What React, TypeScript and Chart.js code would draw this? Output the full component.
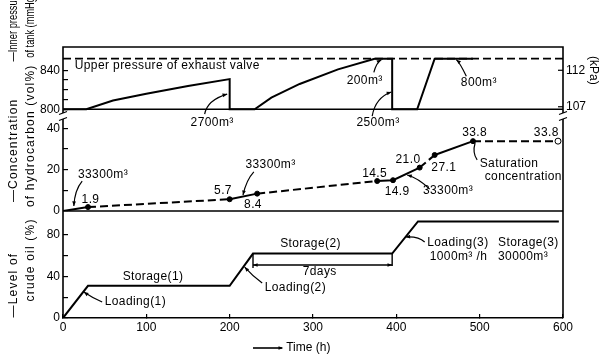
import React, { useEffect, useRef } from 'react';
import { Chart, registerables } from 'chart.js';

Chart.register(...registerables);

// ---------- data ----------
// x axis: time (h)
const timeTicks = [0, 100, 200, 300, 400, 500, 600];

// Panel 1: inner pressure of tank (mmHg)
const pressureTime = [0, 28, 60, 100, 150, 200, 200, 230, 250, 284, 330, 374, 395, 395, 425, 446, 492];
const pressureMmHg = [800, 800, 809, 816, 824, 831, 800, 800, 812, 826, 841, 852, 852, 800, 800, 852, 852];
const exhaustValveTime = [0, 600];
const exhaustValveMmHg = [852, 852];
const pressureTicks = [800, 810, 820, 830, 840];
const pressureLabelled = [800, 840];
const kPaLabels = [112, 107];
const MMHG_PER_KPA = 7.50062;

// Panel 2: concentration of hydrocarbon (vol%)
const concTime = [0, 30, 200, 233, 377, 396, 428, 446, 492, 594];
const concValue = [0, 1.9, 5.7, 8.4, 14.5, 14.9, 21.0, 27.1, 33.8, 33.8];
const concDashed = [false, true, false, true, false, false, true, false, true];
const concTicks = [0, 10, 20, 30, 40];
const concLabelled = [0, 20, 40];

// Panel 3: level of crude oil (%)
const levelTime = [0, 30, 200, 228, 395, 426, 595];
const levelValue = [0, 31, 31, 62, 62, 93, 93];
const levelTicks = [0, 20, 40, 60, 80];
const levelLabelled = [0, 40, 80];

const FONT = "'Liberation Sans', Arial, Helvetica, sans-serif";
const INK = '#000';

type Ax = 'yP' | 'yC' | 'yL';
type Note = { ax: Ax; t: number; v: number; text: string; align?: CanvasTextAlign };
type Leader = { ax: Ax; p: number[][]; head?: boolean };

const notes: Note[] = [
  { ax: 'yP', t: 14, v: 845, text: 'Upper pressure of exhaust valve', align: 'left' },
  { ax: 'yP', t: 179, v: 786.5, text: '2700m³' },
  { ax: 'yP', t: 362, v: 829, text: '200m³' },
  { ax: 'yP', t: 378, v: 786.5, text: '2500m³' },
  { ax: 'yP', t: 499, v: 827, text: '800m³' },
  { ax: 'yC', t: 48, v: 17.4, text: '33300m³' },
  { ax: 'yC', t: 33, v: 5.3, text: '1.9' },
  { ax: 'yC', t: 192, v: 9.7, text: '5.7' },
  { ax: 'yC', t: 228, v: 2.9, text: '8.4' },
  { ax: 'yC', t: 249, v: 22.3, text: '33300m³' },
  { ax: 'yC', t: 374, v: 17.9, text: '14.5' },
  { ax: 'yC', t: 401, v: 9.2, text: '14.9' },
  { ax: 'yC', t: 414, v: 24.7, text: '21.0' },
  { ax: 'yC', t: 457, v: 20.8, text: '27.1' },
  { ax: 'yC', t: 494, v: 37.7, text: '33.8' },
  { ax: 'yC', t: 580, v: 37.7, text: '33.8' },
  { ax: 'yC', t: 462, v: 9.7, text: '33300m³' },
  { ax: 'yC', t: 500, v: 22.7, text: 'Saturation', align: 'left' },
  { ax: 'yC', t: 506, v: 16.4, text: 'concentration', align: 'left' },
  { ax: 'yL', t: 108, v: 39.5, text: 'Storage(1)' },
  { ax: 'yL', t: 50, v: 15.4, text: 'Loading(1)', align: 'left' },
  { ax: 'yL', t: 242, v: 29, text: 'Loading(2)', align: 'left' },
  { ax: 'yL', t: 297, v: 71.2, text: 'Storage(2)' },
  { ax: 'yL', t: 308, v: 44.3, text: '7days' },
  { ax: 'yL', t: 437, v: 72.2, text: 'Loading(3)', align: 'left' },
  { ax: 'yL', t: 440, v: 58.7, text: '1000m³ /h', align: 'left' },
  { ax: 'yL', t: 522, v: 72.2, text: 'Storage(3)', align: 'left' },
  { ax: 'yL', t: 522, v: 58.7, text: '30000m³', align: 'left' },
];

const leaders: Leader[] = [
  { ax: 'yP', p: [[170, 795], [173, 809.5], [197, 815.6]], head: true },
  { ax: 'yP', p: [[373, 838], [376, 848], [382, 851]], head: true },
  { ax: 'yP', p: [[371, 793], [375, 812], [394, 817.7]], head: true },
  { ax: 'yP', p: [[484, 834], [476, 848], [472, 851]], head: true },
  { ax: 'yC', p: [[23, 14.5], [14, 10.2], [13, 2.4]], head: true },
  { ax: 'yC', p: [[229, 18.9], [220, 15], [216, 7.7]], head: true },
  { ax: 'yC', p: [[440, 10.6], [426, 16], [413, 17.4]], head: true },
  { ax: 'yC', p: [[497, 24.7], [491, 28.1], [494.5, 32.9]], head: false },
  { ax: 'yL', p: [[47, 15.4], [36, 19], [25, 25]], head: true },
  { ax: 'yL', p: [[239, 33.7], [228, 40], [218, 49]], head: true },
  { ax: 'yL', p: [[434, 73.2], [426, 79], [411, 78]], head: true },
];

// 7days bracket (time, level)
const bracketTime = [228, 395];
const bracketLevel = 51;

function arrowHead(ctx: CanvasRenderingContext2D, fx: number, fy: number, tx: number, ty: number, size = 5) {
  const a = Math.atan2(ty - fy, tx - fx);
  ctx.beginPath();
  ctx.moveTo(tx, ty);
  ctx.lineTo(tx - size * Math.cos(a - 0.38), ty - size * Math.sin(a - 0.38));
  ctx.lineTo(tx - size * Math.cos(a + 0.38), ty - size * Math.sin(a + 0.38));
  ctx.closePath();
  ctx.fill();
}

const decorPlugin = {
  id: 'decor',
  afterDraw(chart: any) {
    const ctx: any = chart.ctx;
    const { left, right, top, bottom } = chart.chartArea;
    const sx = chart.scales.x;
    const sP = chart.scales.yP;
    const sC = chart.scales.yC;
    const sL = chart.scales.yL;
    const sc: any = { yP: sP, yC: sC, yL: sL };
    const X = (t: number) => sx.getPixelForValue(t);
    ctx.save();
    ctx.strokeStyle = INK;
    ctx.fillStyle = INK;
    ctx.lineCap = 'butt';

    // frame
    const breakTop = sP.bottom - 5;
    const breakBot = sP.bottom + 1;
    ctx.lineWidth = 1.6;
    ctx.beginPath();
    ctx.moveTo(left, breakTop);
    ctx.lineTo(left, top);
    ctx.lineTo(right, top);
    ctx.lineTo(right, breakTop);
    ctx.moveTo(left, breakBot);
    ctx.lineTo(left, bottom);
    ctx.moveTo(right, breakBot);
    ctx.lineTo(right, bottom);
    ctx.stroke();
    // break marks
    ctx.lineWidth = 1.2;
    [left, right].forEach((x) => {
      [breakTop, breakBot].forEach((y) => {
        ctx.beginPath();
        ctx.moveTo(x - 4, y + 1.5);
        ctx.lineTo(x + 4, y - 1.5);
        ctx.stroke();
      });
    });
    // separators
    ctx.lineWidth = 1.6;
    const y800 = sP.getPixelForValue(800);
    const y0 = sC.getPixelForValue(0);
    ctx.beginPath();
    ctx.moveTo(left, y800);
    ctx.lineTo(right, y800);
    ctx.moveTo(left, y0);
    ctx.lineTo(right, y0);
    ctx.stroke();

    // right kPa axis
    ctx.font = `12px ${FONT}`;
    ctx.textAlign = 'left';
    ctx.textBaseline = 'middle';
    ctx.lineWidth = 1.2;
    kPaLabels.forEach((k) => {
      const y = sP.getPixelForValue(k * MMHG_PER_KPA);
      ctx.beginPath();
      ctx.moveTo(right - 5, y);
      ctx.lineTo(right, y);
      ctx.stroke();
      ctx.fillText(String(k), right + 3, y);
    });
    ctx.save();
    ctx.translate(right + 30, sP.getPixelForValue(840));
    ctx.rotate(Math.PI / 2);
    ctx.textAlign = 'center';
    ctx.fillText('(kPa)', 0, 0);
    ctx.restore();

    // notes
    ctx.font = `12px ${FONT}`;
    ctx.letterSpacing = '0.4px';
    ctx.textBaseline = 'middle';
    notes.forEach((n) => {
      ctx.textAlign = n.align || 'center';
      ctx.fillText(n.text, X(n.t), sc[n.ax].getPixelForValue(n.v));
    });
    ctx.letterSpacing = '0px';

    // leaders
    ctx.lineWidth = 1.2;
    leaders.forEach((l) => {
      const s = sc[l.ax];
      const p = l.p.map(([t, v]) => [X(t), s.getPixelForValue(v)]);
      ctx.beginPath();
      ctx.moveTo(p[0][0], p[0][1]);
      ctx.quadraticCurveTo(p[1][0], p[1][1], p[2][0], p[2][1]);
      ctx.stroke();
      if (l.head) arrowHead(ctx, p[1][0], p[1][1], p[2][0], p[2][1], 5);
    });

    // 7days bracket
    const by = sL.getPixelForValue(bracketLevel);
    const bx1 = X(bracketTime[0]);
    const bx2 = X(bracketTime[1]);
    const topY = sL.getPixelForValue(62);
    ctx.lineWidth = 1.4;
    ctx.beginPath();
    ctx.moveTo(bx1, topY);
    ctx.lineTo(bx1, by + 3);
    ctx.moveTo(bx2, topY);
    ctx.lineTo(bx2, by + 1);
    ctx.moveTo(bx1, by);
    ctx.lineTo(bx2, by);
    ctx.stroke();
    arrowHead(ctx, bx1 + 10, by, bx1, by, 5);
    arrowHead(ctx, bx2 - 10, by, bx2, by, 5);

    // left axis titles (rotated, text runs upward from its bottom end)
    const vtext = (s: string, x: number, yBottom: number, maxLen?: number) => {
      ctx.save();
      ctx.translate(x, yBottom);
      ctx.rotate(-Math.PI / 2);
      ctx.textAlign = 'left';
      ctx.textBaseline = 'middle';
      if (maxLen) ctx.fillText(s, 0, 0, maxLen);
      else ctx.fillText(s, 0, 0);
      ctx.restore();
    };
    ctx.font = `12px ${FONT}`;
    const p1a = sP.getPixelForValue(849);
    const p1b = sP.getPixelForValue(853);
    vtext('—Inner pressure', 14, p1a, p1a + 8);
    vtext('of tank (mmHg)', 31, p1b, p1b + 6);
    ctx.letterSpacing = '1.2px';
    vtext('—Concentration', 14, sC.getPixelForValue(4.3));
    vtext('of hydrocarbon (vol%)', 31, sC.getPixelForValue(1.9));
    vtext('—Level of', 14, sL.getPixelForValue(0.5));
    vtext('crude oil (%)', 31, sL.getPixelForValue(16));
    ctx.letterSpacing = '0px';

    // x title
    const ty = bottom + 30;
    const ax1 = X(228);
    const ax2 = X(263);
    ctx.lineWidth = 1.6;
    ctx.beginPath();
    ctx.moveTo(ax1, ty);
    ctx.lineTo(ax2, ty);
    ctx.stroke();
    arrowHead(ctx, ax1, ty, ax2 + 1, ty, 5);
    ctx.textAlign = 'left';
    ctx.textBaseline = 'middle';
    ctx.fillText('Time (h)', ax2 + 4, ty);

    ctx.restore();
  },
};

function yAxis(
  weight: number,
  stackWeight: number,
  min: number,
  max: number,
  ticks: number[],
  labelled: number[]
) {
  return {
    type: 'linear',
    position: 'left',
    stack: 'panels',
    stackWeight,
    weight,
    min,
    max,
    afterFit: (s: any) => {
      s.width = 63;
    },
    afterBuildTicks: (s: any) => {
      s.ticks = ticks.map((v) => ({ value: v }));
    },
    border: { display: false },
    grid: {
      drawOnChartArea: false,
      drawTicks: true,
      tickLength: -5,
      color: INK,
      lineWidth: 1.2,
    },
    ticks: {
      autoSkip: false,
      padding: 8,
      color: INK,
      font: { family: FONT, size: 12 },
      callback: (v: number) => (labelled.includes(v) ? String(v) : ''),
    },
  };
}

export default function App() {
  const ref = useRef<HTMLCanvasElement>(null);
  useEffect(() => {
    const canvas = ref.current!;
    const xy = (xs: number[], ys: number[]) => xs.map((x, i) => ({ x, y: ys[i] }));
    const chart = new Chart(canvas, {
      type: 'line',
      data: {
        datasets: [
          {
            data: xy(pressureTime, pressureMmHg),
            yAxisID: 'yP',
            borderColor: INK,
            borderWidth: 2,
            pointRadius: 0,
          },
          {
            data: xy(exhaustValveTime, exhaustValveMmHg),
            yAxisID: 'yP',
            borderColor: INK,
            borderWidth: 1.8,
            borderDash: [8, 4],
            pointRadius: 0,
          },
          {
            data: xy(concTime, concValue),
            yAxisID: 'yC',
            borderColor: INK,
            borderWidth: 2,
            pointRadius: concValue.map((_, i) => (i === 0 ? 0 : i === concValue.length - 1 ? 3 : 2.5)),
            pointBackgroundColor: concValue.map((_, i) => (i === concValue.length - 1 ? '#fff' : INK)),
            pointBorderColor: INK,
            pointBorderWidth: 1,
            segment: {
              borderDash: (c: any) => (concDashed[c.p0DataIndex] ? [8, 4] : []),
            },
          },
          {
            data: xy(levelTime, levelValue),
            yAxisID: 'yL',
            borderColor: INK,
            borderWidth: 2,
            pointRadius: 0,
          },
        ] as any,
      },
      options: {
        responsive: false,
        animation: false,
        devicePixelRatio: 1,
        layout: { padding: { top: 47, right: 37, left: 0, bottom: 0 } },
        plugins: { legend: { display: false }, tooltip: { enabled: false } },
        elements: { line: { tension: 0 } },
        scales: {
          x: {
            type: 'linear',
            position: 'bottom',
            min: 0,
            max: 600,
            afterFit: (s: any) => {
              s.height = 41;
            },
            afterBuildTicks: (s: any) => {
              s.ticks = timeTicks.map((v) => ({ value: v }));
            },
            border: { display: true, color: INK, width: 1.6 },
            grid: { drawOnChartArea: false, drawTicks: true, tickLength: -4, color: INK, lineWidth: 1.2 },
            ticks: { autoSkip: false, maxRotation: 0, padding: 6, color: INK, font: { family: FONT, size: 12 } },
          },
          yP: yAxis(3, 71, 791, 864, pressureTicks, pressureLabelled),
          yC: yAxis(2, 93, 0, 45, concTicks, concLabelled),
          yL: yAxis(1, 107, 0, 103, levelTicks, levelLabelled),
        } as any,
      },
      plugins: [decorPlugin],
    });
    return () => chart.destroy();
  }, []);
  return (
    <div style={{ position: 'fixed', left: 0, top: 0, width: 600, height: 359, background: '#fff' }}>
      <canvas ref={ref} width={600} height={359} />
    </div>
  );
}
